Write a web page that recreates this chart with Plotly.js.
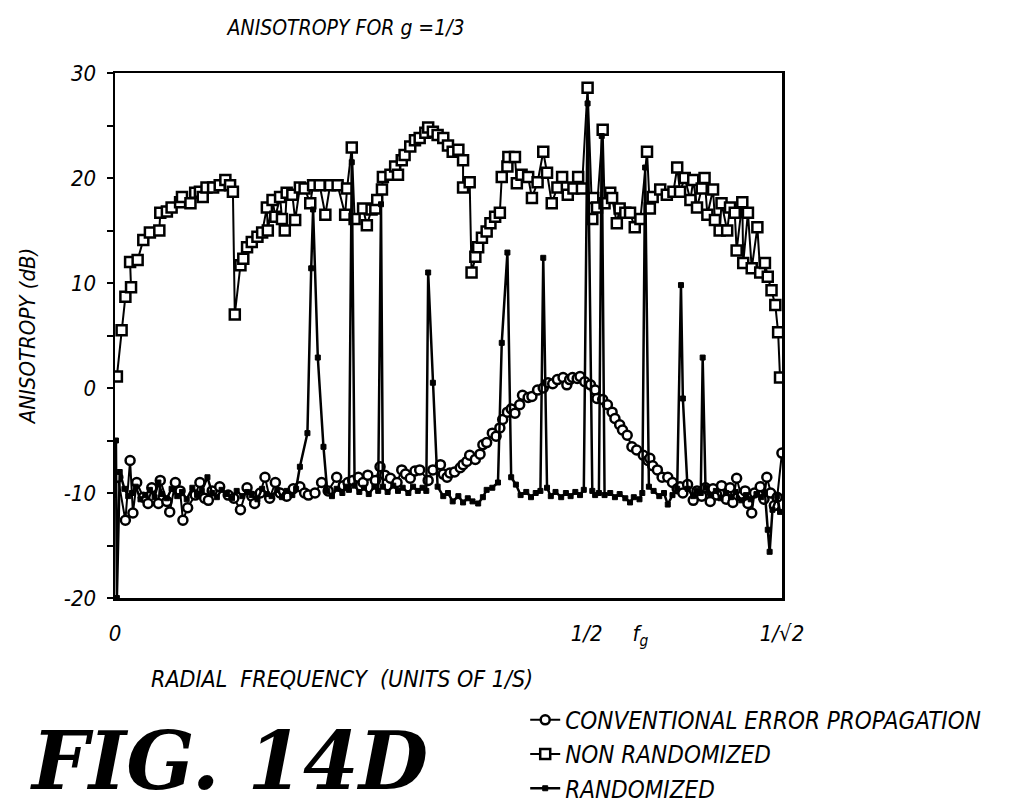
<!DOCTYPE html>
<html><head><meta charset="utf-8">
<script src="https://cdn.plot.ly/plotly-3.0.1.min.js"></script>
<style>body{margin:0;background:#fff}#chart{width:1012px;height:812px}</style>
</head><body><div id="chart"></div>
<script>
// Radial frequency (units of 1/S) and anisotropy (dB)
const convX = [0.003,0.011,0.016,0.019,0.023,0.030,0.035,0.039,0.046,0.048,0.055,0.058,0.064,0.069,0.072,0.077,0.085,0.090,0.095,0.099,0.103,0.111,0.120,0.126,0.133,0.140,0.145,0.148,0.154,0.159,0.164,0.170,0.175,0.182,0.189,0.196,0.201,0.205,0.212,0.219,0.226,0.235,0.242,0.247,0.252,0.258,0.263,0.268,0.276,0.281,0.286,0.292,0.299,0.304,0.308,0.313,0.318,0.323,0.332,0.337,0.345,0.348,0.352,0.355,0.360,0.366,0.369,0.373,0.376,0.382,0.387,0.390,0.394,0.400,0.404,0.408,0.411,0.416,0.420,0.424,0.429,0.432,0.438,0.442,0.448,0.454,0.459,0.464,0.469,0.475,0.479,0.482,0.485,0.490,0.493,0.498,0.504,0.509,0.511,0.517,0.522,0.527,0.530,0.535,0.538,0.543,0.548,0.553,0.560,0.565,0.567,0.570,0.575,0.580,0.586,0.591,0.596,0.599,0.602,0.607,0.613,0.617,0.622,0.626,0.631,0.634,0.638,0.643,0.648,0.652,0.655,0.659,0.664,0.668,0.671,0.675,0.678,0.684,0.688,0.691,0.695,0.699,0.702,0.707];
const convY = [-8.5,-12.6,-6.9,-11.9,-9.0,-10.4,-11.0,-9.5,-11.0,-8.8,-10.8,-11.8,-9.0,-9.8,-12.6,-11.4,-10.2,-9.0,-10.5,-10.7,-9.8,-9.4,-10.2,-10.5,-11.6,-9.5,-10.3,-11.0,-10.0,-8.5,-10.5,-9.0,-10.0,-10.3,-9.6,-9.4,-10.0,-10.2,-10.0,-9.0,-9.8,-8.5,-9.3,-9.0,-8.8,-8.5,-9.0,-8.3,-8.8,-7.5,-8.3,-8.6,-9.0,-7.8,-8.2,-8.6,-7.9,-7.8,-8.8,-7.8,-7.3,-8.2,-8.5,-8.1,-8.0,-7.6,-7.3,-7.0,-6.4,-6.8,-6.3,-5.4,-5.2,-4.3,-4.6,-3.8,-3.0,-2.3,-2.0,-2.4,-1.6,-0.7,-0.9,-0.8,-0.2,0.0,0.5,0.4,0.8,1.0,0.3,0.8,1.0,0.9,1.1,0.6,0.3,-0.2,-1.0,-1.1,-1.6,-2.3,-2.9,-3.5,-4.0,-4.5,-5.6,-5.9,-6.4,-6.9,-6.7,-7.4,-7.8,-8.5,-8.5,-9.0,-9.6,-9.4,-10.0,-9.2,-10.7,-9.8,-10.3,-9.5,-10.8,-9.6,-10.2,-9.3,-10.6,-9.5,-10.9,-8.6,-10.3,-9.8,-11.0,-11.9,-10.0,-9.4,-10.6,-8.5,-10.0,-11.2,-10.4,-6.2];

const nonRandX = [0.002,0.007,0.011,0.017,0.016,0.024,0.030,0.037,0.047,0.048,0.055,0.060,0.069,0.071,0.080,0.085,0.090,0.093,0.097,0.104,0.111,0.117,0.122,0.125,0.127,0.133,0.136,0.140,0.145,0.151,0.156,0.161,0.162,0.167,0.170,0.175,0.177,0.180,0.182,0.188,0.191,0.196,0.201,0.207,0.210,0.217,0.223,0.228,0.236,0.244,0.246,0.251,0.254,0.263,0.267,0.272,0.276,0.278,0.283,0.284,0.292,0.297,0.300,0.304,0.307,0.313,0.318,0.323,0.329,0.332,0.337,0.342,0.348,0.353,0.358,0.364,0.369,0.369,0.376,0.378,0.382,0.385,0.389,0.394,0.398,0.403,0.408,0.410,0.416,0.417,0.424,0.426,0.431,0.438,0.442,0.448,0.454,0.458,0.463,0.469,0.474,0.479,0.480,0.486,0.491,0.495,0.501,0.506,0.507,0.511,0.517,0.519,0.525,0.527,0.532,0.535,0.541,0.546,0.551,0.557,0.564,0.567,0.570,0.578,0.585,0.592,0.596,0.599,0.604,0.610,0.613,0.617,0.622,0.625,0.628,0.634,0.636,0.641,0.643,0.649,0.652,0.657,0.659,0.665,0.666,0.671,0.675,0.681,0.684,0.689,0.692,0.696,0.700,0.703,0.705];
const nonRandY = [1.1,5.5,8.7,9.6,12.0,12.2,14.1,14.8,15.0,16.7,16.8,17.2,17.7,18.2,17.6,18.6,18.7,18.2,19.1,19.1,19.3,19.8,19.3,18.7,7.0,11.7,12.3,13.4,13.9,14.4,14.8,17.2,15.0,17.9,16.3,18.2,16.1,15.0,18.6,18.4,16.0,19.1,19.0,17.6,19.3,19.3,16.5,19.3,19.3,16.5,19.0,22.9,16.1,17.1,15.5,17.0,17.1,17.9,18.9,20.1,20.3,21.1,20.3,21.7,22.2,23.0,23.6,23.8,24.3,24.8,24.4,24.1,23.8,23.1,22.5,22.7,21.7,19.1,19.6,11.0,12.5,13.4,14.3,14.9,15.7,16.3,16.7,20.1,21.1,22.0,22.0,19.5,20.3,20.1,18.1,19.6,22.5,20.5,17.6,19.1,20.1,19.1,18.4,19.0,20.1,19.0,28.6,16.1,18.1,17.2,24.6,17.6,18.6,18.1,15.7,17.1,16.7,16.7,15.3,16.1,22.5,17.1,18.2,18.9,18.4,18.7,21.0,18.7,20.0,17.9,19.8,17.2,19.0,20.0,16.5,18.9,16.0,15.0,17.6,15.0,17.2,16.7,13.1,17.7,11.9,16.7,11.4,15.3,11.0,11.9,10.6,9.3,7.9,5.3,1.0];

const randX = [0.001,0.002,0.005,0.010,0.014,0.018,0.022,0.027,0.032,0.037,0.042,0.046,0.050,0.055,0.060,0.066,0.071,0.076,0.082,0.087,0.092,0.098,0.103,0.108,0.113,0.119,0.124,0.129,0.135,0.140,0.145,0.151,0.156,0.161,0.166,0.172,0.177,0.182,0.188,0.192,0.196,0.204,0.208,0.210,0.215,0.221,0.225,0.230,0.235,0.241,0.245,0.248,0.251,0.254,0.259,0.264,0.269,0.275,0.279,0.282,0.284,0.289,0.295,0.300,0.305,0.311,0.316,0.321,0.326,0.330,0.332,0.337,0.342,0.348,0.353,0.358,0.364,0.369,0.374,0.379,0.385,0.390,0.394,0.400,0.406,0.410,0.416,0.420,0.425,0.430,0.436,0.441,0.446,0.451,0.454,0.458,0.462,0.467,0.473,0.478,0.483,0.488,0.493,0.497,0.501,0.506,0.509,0.513,0.516,0.519,0.525,0.530,0.535,0.541,0.546,0.550,0.556,0.559,0.562,0.566,0.571,0.577,0.582,0.586,0.591,0.596,0.600,0.602,0.607,0.613,0.617,0.621,0.623,0.626,0.632,0.637,0.642,0.648,0.653,0.658,0.664,0.669,0.674,0.680,0.685,0.689,0.692,0.694,0.697,0.702,0.705];
const randY = [-5.0,-20.0,-8.0,-9.6,-10.3,-10.0,-9.4,-10.6,-10.2,-9.7,-10.4,-9.0,-10.1,-10.5,-9.6,-10.3,-9.9,-10.6,-9.5,-10.2,-9.8,-8.5,-10.0,-10.4,-9.7,-10.1,-10.5,-9.8,-10.3,-9.9,-10.2,-10.6,-9.6,-10.1,-10.3,-9.7,-10.4,-9.8,-10.2,-9.6,-7.5,-4.3,11.4,17.0,2.9,-5.6,-9.8,-10.3,-9.6,-10.0,-9.4,-9.7,21.5,-9.3,-9.9,-9.5,-10.1,-9.4,-9.8,17.5,-9.4,-9.9,-9.3,-9.8,-9.5,-10.0,-9.4,-9.8,-9.5,-9.8,11.0,0.5,-9.4,-10.3,-10.0,-10.8,-10.3,-10.9,-10.5,-10.8,-11.0,-10.4,-9.7,-9.5,-9.0,4.3,12.9,-8.5,-9.2,-10.2,-9.9,-10.4,-10.0,-9.8,12.4,-9.5,-10.3,-9.9,-10.4,-10.0,-10.3,-9.9,-10.2,-9.7,27.1,-9.8,-10.2,-10.0,24.0,-10.2,-10.0,-10.4,-10.1,-10.5,-10.9,-10.4,-10.6,-10.0,21.0,-9.4,-9.8,-10.3,-10.0,-11.1,-10.2,-9.6,9.8,-1.0,-9.6,-10.3,-9.8,-10.0,2.9,-9.5,-10.2,-9.8,-10.5,-10.0,-10.4,-9.9,-10.7,-10.2,-10.6,-10.1,-10.4,-10.0,-13.5,-15.6,-11.6,-10.3,-11.8];

const xTickVals = [0, 0.5, 0.557, 0.7071];
const xTickText = ['0', '1/2', 'f<sub>g</sub>', '1/√2'];
const yTickVals = [-20, -10, 0, 10, 20, 30];
const yTickText = ['-20', '-10', '0', '10', '20', '30'];

const FONT = 'DejaVu Sans Condensed, Liberation Sans Narrow, sans-serif';

const traces = [
  {x: convX, y: convY, name: 'CONVENTIONAL ERROR PROPAGATION', type: 'scatter', mode: 'lines+markers',
   line: {color: '#000', width: 2},
   marker: {symbol: 'circle', size: 9, color: '#fff', line: {color: '#000', width: 2.5}}},
  {x: nonRandX, y: nonRandY, name: 'NON RANDOMIZED', type: 'scatter', mode: 'lines+markers',
   line: {color: '#000', width: 2},
   marker: {symbol: 'square', size: 10, color: '#fff', line: {color: '#000', width: 2.5}}},
  {x: randX, y: randY, name: 'RANDOMIZED', type: 'scatter', mode: 'lines+markers',
   line: {color: '#000', width: 2.5},
   marker: {symbol: 'square', size: 5, color: '#000', line: {color: '#000', width: 1}}}
];

const layout = {
  width: 1012, height: 812,
  paper_bgcolor: '#fff', plot_bgcolor: '#fff',
  margin: {l: 115, r: 230, t: 73, b: 214, autoexpand: false},
  showlegend: true,
  font: {family: FONT, color: '#000', style: 'italic'},
  title: {text: 'ANISOTROPY FOR g =1/3', x: 0.342, xanchor: 'center', y: 0.966, yanchor: 'middle',
          font: {family: FONT, size: 21, style: 'italic', color: '#000'}},
  xaxis: {range: [0, 0.7071], showgrid: false, zeroline: false, showline: true, mirror: true,
          linecolor: '#000', linewidth: 2.5, ticks: '', tickvals: xTickVals, ticktext: xTickText,
          ticklabelstandoff: 14,
          tickfont: {family: FONT, size: 22, style: 'italic', color: '#000'}},
  yaxis: {range: [-20, 30], showgrid: false, zeroline: false, showline: true, mirror: true,
          linecolor: '#000', linewidth: 2.5, ticks: 'outside', ticklen: 6, tickwidth: 2, tickcolor: '#000',
          tickvals: yTickVals, ticktext: yTickText, ticklabelstandoff: 6,
          minor: {dtick: 5, ticks: 'outside', ticklen: 6, tickwidth: 2, tickcolor: '#000'},
          tickfont: {family: FONT, size: 22, style: 'italic', color: '#000'},
          title: {text: 'ANISOTROPY (dB)', standoff: 22, font: {family: FONT, size: 22, style: 'italic', color: '#000'}}},
  legend: {x: 0.615, xanchor: 'left', y: -0.19, yanchor: 'top', bgcolor: 'rgba(0,0,0,0)',
           font: {family: FONT, size: 24, style: 'italic', color: '#000'}, tracegroupgap: 0},
  annotations: [
    {text: 'RADIAL  FREQUENCY  (UNITS OF 1/S)', xref: 'paper', yref: 'paper', x: 0.34, y: -0.154,
     xanchor: 'center', yanchor: 'middle', showarrow: false,
     font: {family: FONT, size: 23, style: 'italic', color: '#000'}},
    {text: '<b><i>FIG. 14D</i></b>', xref: 'paper', yref: 'paper', x: -0.131, y: -0.31,
     xanchor: 'left', yanchor: 'middle', showarrow: false,
     font: {family: 'DejaVu Serif, Liberation Serif, serif', size: 80, style: 'italic', weight: 'bold', color: '#000'}}
  ]
};

Plotly.newPlot('chart', traces, layout, {displayModeBar: false, staticPlot: true});
</script></body></html>
